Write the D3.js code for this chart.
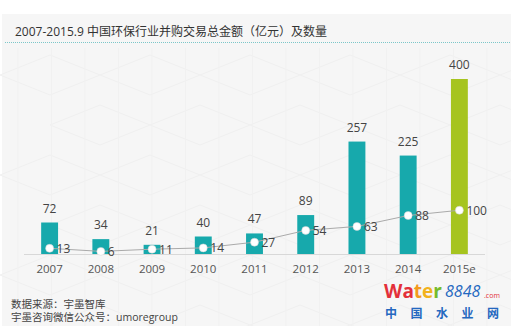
<!DOCTYPE html>
<html><head><meta charset="utf-8">
<script src="https://cdn.jsdelivr.net/npm/d3@7"></script>
<style>
html,body{margin:0;padding:0;background:#fff;}
svg{display:block;}
text{font-family:"Open Sans","Noto Sans CJK SC","Noto Sans",sans-serif;}
</style></head>
<body>
<svg id="c" width="511" height="326"></svg>
<script>
const categories = ["2007","2008","2009","2010","2011","2012","2013","2014","2015e"];
const amounts = [72, 34, 21, 40, 47, 89, 257, 225, 400];
const counts = [13, 6, 11, 14, 27, 54, 63, 88, 100];
const titleText = "2007-2015.9 中国环保行业并购交易总金额（亿元）及数量";
const sourceLines = ["数据来源：宇墨智库", "宇墨咨询微信公众号：umoregroup"];
const logoChars = ["中","国","水","业","网"];

const svg = d3.select("#c");
// panel background
svg.append("rect").attr("x",2).attr("y",14).attr("width",509).attr("height",312).attr("fill","#f6f6f6");

// faint hex pattern
const hex = svg.append("g").attr("stroke","#f0f0f0").attr("stroke-width",1).attr("fill","none");
for (let row=0; row<6; row++){
  for (let col=0; col<6; col++){
    const cx = 50 + col*100 + (row%2?50:0), cy = 75 + row*50;
    const pts = [[cx-50,cy],[cx,cy-20],[cx+50,cy],[cx,cy+20]];
    hex.append("path").attr("d", d3.line()(pts.concat([pts[0]])));
  }
}
const vg = svg.append("g").attr("stroke","#f1f1f1");
for (let x=18; x<511; x+=33.5) vg.append("line").attr("x1",x).attr("x2",x).attr("y1",48).attr("y2",326);

// title
svg.append("text").attr("x",15).attr("y",36).attr("font-size",12).attr("fill","#333").text(titleText);
svg.append("line").attr("x1",5).attr("x2",511).attr("y1",42.5).attr("y2",42.5)
  .attr("stroke","#7cc7c9").attr("stroke-width",1).attr("stroke-dasharray","1,1");

const x = d3.scaleBand().domain(categories).range([24,485]).paddingInner(0.67).paddingOuter(0.335);
const y = d3.scaleLinear().domain([0,400]).range([254,79]);

// baseline
svg.append("line").attr("x1",24).attr("x2",485).attr("y1",254.5).attr("y2",254.5).attr("stroke","#d8d8d8");

// bars
svg.append("g").selectAll("rect").data(amounts).join("rect")
  .attr("x",(d,i)=>x(categories[i])).attr("width",x.bandwidth())
  .attr("y",d=>y(d)).attr("height",d=>y(0)-y(d))
  .attr("fill",(d,i)=>categories[i]==="2015e"?"#a6c41f":"#17a9ac");

// bar labels
svg.append("g").selectAll("text").data(amounts).join("text")
  .attr("x",(d,i)=>x(categories[i])+x.bandwidth()/2).attr("y",d=>y(d)-10)
  .attr("text-anchor","middle").attr("font-size",12).attr("fill","#444").text(d=>d);

// line
const cx = (i)=>x(categories[i])+x.bandwidth()/2;
svg.append("path").datum(counts)
  .attr("d", d3.line().x((d,i)=>cx(i)).y(d=>y(d)))
  .attr("fill","none").attr("stroke","#aaaaaa").attr("stroke-width",1);

// count labels
svg.append("g").selectAll("text").data(counts).join("text")
  .attr("x",(d,i)=>cx(i)+7).attr("y",d=>y(d)+4.5)
  .attr("font-size",12).attr("fill","#444").text(d=>d);

svg.append("g").selectAll("circle").data(counts).join("circle")
  .attr("cx",(d,i)=>cx(i)).attr("cy",d=>y(d)).attr("r",4)
  .attr("fill","#fff").attr("stroke","#d0d0d0").attr("stroke-width",0.5);

// x axis labels
svg.append("g").selectAll("text").data(categories).join("text")
  .attr("x",d=>x(d)+x.bandwidth()/2).attr("y",273)
  .attr("text-anchor","middle").attr("font-size",11.5).attr("fill","#555").text(d=>d);

// source
svg.append("g").selectAll("text").data(sourceLines).join("text")
  .attr("x",11).attr("y",(d,i)=>308+i*12.5).attr("font-size",10.5).attr("fill","#444").text(d=>d);

// watermark logo
const wm = svg.append("g");
const w1 = wm.append("text").attr("x",384).attr("y",298).attr("font-family","Arial, 'Liberation Sans', sans-serif")
  .attr("font-weight","bold").attr("font-size",19);
[["W","#e3303a"],["a","#e3303a"],["t","#f29a1d"],["e","#f2b21d"],["r","#76bb2a"]].forEach(([c,col])=>w1.append("tspan").attr("fill",col).text(c));
wm.append("text").attr("x",445).attr("y",297).attr("font-family","'Liberation Serif','DejaVu Serif',serif")
  .attr("font-style","italic").attr("font-size",16).attr("fill","#2468c0").text("8848");
wm.append("text").attr("x",484).attr("y",298).attr("font-family","Arial, sans-serif")
  .attr("font-size",7).attr("fill","#e3303a").text(".com");
wm.append("g").selectAll("text").data(logoChars).join("text")
  .attr("x",(d,i)=>385+i*25.5).attr("y",318).attr("font-size",12).attr("font-weight","bold")
  .attr("fill","#2468c0").attr("font-family","'Noto Sans CJK SC',sans-serif").text(d=>d);
</script>
</body></html>
